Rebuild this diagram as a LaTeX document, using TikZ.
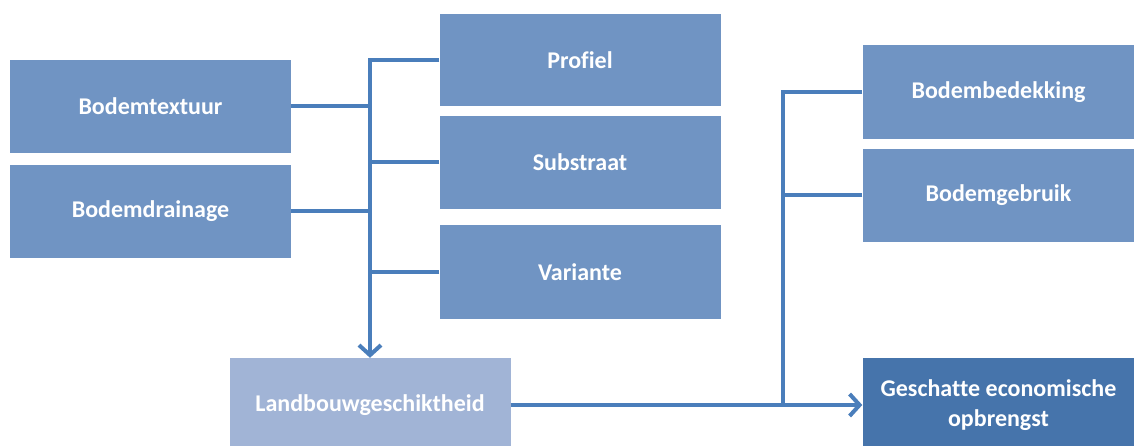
\documentclass[tikz,border=0pt]{standalone}
\usepackage{fontspec}
\setmainfont[Ligatures=NoCommon]{Carlito}
\usetikzlibrary{arrows.meta}
\definecolor{boxblue}{HTML}{7094C3}
\definecolor{paleblue}{HTML}{A1B4D6}
\definecolor{deepblue}{HTML}{4674AB}
\definecolor{linkblue}{HTML}{4A7EBB}
\tikzset{
  box/.style={fill=boxblue, draw=none, text=white, font=\fontsize{24}{30}\selectfont\bfseries,
    minimum width=281pt, minimum height=93pt, inner sep=0pt, align=center},
  link/.style={draw=linkblue, line width=4pt},
  tip/.style={-{Straight Barb[length=10pt,width=22pt]}},
}
\begin{document}
\begin{tikzpicture}[x=1pt, y=-1pt]
\clip (0,0) rectangle (1134,446);
\fill[white] (0,0) rectangle (1134,446);

% input factors on the left
\node[box] (tex) at (150.5,106.5) {Bodemtextuur};
\node[box] (dra) at (150.5,211.5) {Bodemdrainage};

% soil map attributes
\node[box, minimum height=92pt] (pro) at (580,60) {Profiel};
\node[box] (sub) at (580,162.5) {Substraat};
\node[box, minimum height=94pt] (var) at (580,272) {Variante};

% land cover and land use
\node[box, minimum width=272pt, minimum height=94pt] (bed) at (998.5,92) {Bodembedekking};
\node[box, minimum width=272pt] (geb) at (998.5,195.5) {Bodemgebruik};

% results
\node[box, fill=paleblue, minimum width=281pt, minimum height=94pt] (lan) at (370,405) {Landbouwgeschiktheid};
\node[box, fill=deepblue, minimum width=272pt, minimum height=94pt] (opb) at (998.5,405) {Geschatte economische\\opbrengst};

% left collector trunk with arrow down
\draw[link, tip] (pro.west) -| (lan.north);
\draw[link] (tex.east) -- (tex.east -| lan.north);
\draw[link] (dra.east) -- (dra.east -| lan.north);
\draw[link] (sub.west) -- (sub.west -| lan.north);
\draw[link] (var.west) -- (var.west -| lan.north);

% right collector trunk
\coordinate (rt) at (783,0);
\draw[link, tip] (lan.east) -- (opb.west);
\draw[link] (bed.west) -- (bed.west -| rt) -- (rt |- lan.east);
\draw[link] (geb.west) -- (geb.west -| rt);
\end{tikzpicture}
\end{document}
